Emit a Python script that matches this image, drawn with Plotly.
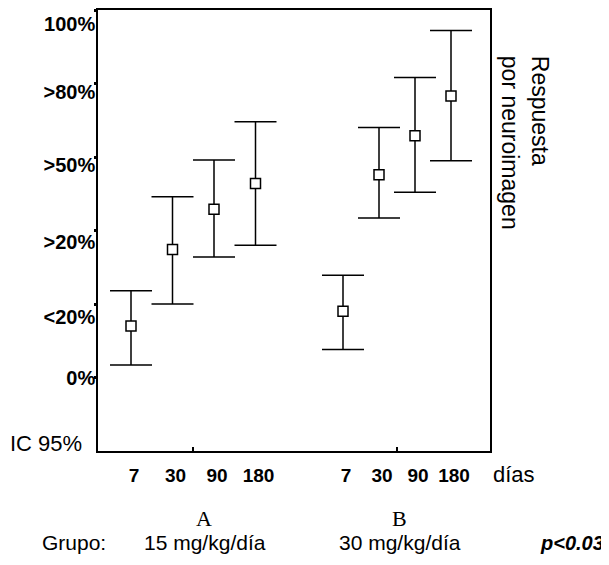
import plotly.graph_objects as go

# ---------------- data ----------------
days = ["7", "30", "90", "180"]
groups = ["A", "B"]
group_desc = ["15 mg/kg/día", "30 mg/kg/día"]

# response level on the ordinal scale (0 = IC 95% baseline ... 6 = top)
A_mid = [1.70, 2.74, 3.29, 3.64]
A_hi = [2.18, 3.46, 3.96, 4.48]
A_lo = [1.17, 2.00, 2.64, 2.80]
B_mid = [1.90, 3.76, 4.29, 4.83]
B_hi = [2.39, 4.40, 5.08, 5.72]
B_lo = [1.38, 3.17, 3.52, 3.95]

y_levels = [1, 2, 3, 4, 5, 6]
y_labels = ["0%", "<20%", ">20%", ">50%", ">80%", "100%"]

# ---------------- layout helpers ----------------
W, H = 609, 565            # window size
OFF = 8                    # page body margin
L, R, T, B = 98, 490, 8, 451          # plot box in window pixels
GROUP_START = {"A": 33, "B": 245}
GROUP_STEP = {"A": 41.5, "B": 36}
LABEL_SHIFT = [0.0, 0.17, 0.16, 0.11, 0.11, 0.19]  # labels sit a little below their tick


def px_x(p):
    return (p - L) / (R - L)


def px_y(p):
    return (B - p) / (B - T)


fig = go.Figure()
series = {"A": (A_mid, A_hi, A_lo), "B": (B_mid, B_hi, B_lo)}
all_x, all_text, centers = [], [], []
for g in groups:
    mid, hi, lo = series[g]
    xs = [GROUP_START[g] + i * GROUP_STEP[g] for i in range(len(days))]
    all_x += xs
    all_text += days
    centers.append((xs[0] + xs[-1]) / 2)
    fig.add_trace(go.Scatter(
        x=xs, y=mid, mode="markers",
        marker=dict(symbol="square", size=10, color="white",
                    line=dict(color="black", width=1.5)),
        error_y=dict(type="data", symmetric=False,
                     array=[h - m for h, m in zip(hi, mid)],
                     arrayminus=[m - l for m, l in zip(mid, lo)],
                     color="black", thickness=1.5, width=21),
        showlegend=False, hoverinfo="skip",
    ))

sans = "Liberation Sans, Arial"
fig.update_xaxes(
    range=[0, R - L], showline=True, linecolor="black", linewidth=1.5,
    mirror=True, showgrid=False, zeroline=False,
    tickmode="array", tickvals=all_x, ticktext=all_text, ticks="",
    tickfont=dict(family=sans, size=19, color="black", weight="bold"),
    ticklabelstandoff=6, ticklabelshift=3,
    minor=dict(tickvals=centers, ticks="inside", ticklen=4, tickwidth=2,
               tickcolor="black"),
)
fig.update_yaxes(
    range=[0, 6], showline=True, linecolor="black", linewidth=1.5,
    mirror=True, showgrid=False, zeroline=False,
    tickmode="array",
    tickvals=[v - s for v, s in zip(y_levels, LABEL_SHIFT)],
    ticktext=y_labels, ticks="",
    tickfont=dict(family=sans, size=20, color="black", weight="bold"),
    ticklabelstandoff=-3,
    minor=dict(tickvals=y_levels, ticks="outside", ticklen=2, tickwidth=3,
               tickcolor="black"),
)

ann = []
ann.append(dict(text="IC 95%", xref="paper", yref="paper", x=px_x(OFF), y=px_y(443),
                xanchor="left", yanchor="middle", showarrow=False,
                font=dict(family=sans, size=22, color="black")))
ann.append(dict(text="días", xref="paper", yref="paper", x=px_x(514), y=px_y(475),
                xanchor="center", yanchor="middle", showarrow=False,
                font=dict(family=sans, size=22, color="black")))
ann.append(dict(text="Respuesta<br>por neuroimagen", textangle=90, align="left",
                xref="paper", yref="paper", x=px_x(525), y=px_y(52),
                xanchor="center", yanchor="top", showarrow=False,
                font=dict(family=sans, size=23, color="black")))
for g, desc, cx, dx in zip(groups, group_desc, [204, 399], [205, 400]):
    ann.append(dict(text=g, xref="paper", yref="paper", x=px_x(cx), y=px_y(519),
                    xanchor="center", yanchor="middle", showarrow=False,
                    font=dict(family="Liberation Serif, Times New Roman", size=22,
                              color="black")))
    ann.append(dict(text=desc, xref="paper", yref="paper", x=px_x(dx), y=px_y(543),
                    xanchor="center", yanchor="middle", showarrow=False,
                    font=dict(family=sans, size=21, color="black")))
ann.append(dict(text="Grupo:", xref="paper", yref="paper", x=px_x(40), y=px_y(543),
                xanchor="left", yanchor="middle", showarrow=False,
                font=dict(family=sans, size=21, color="black")))
ann.append(dict(text="<b><i>p<0.03</i></b>", xref="paper", yref="paper",
                x=px_x(606), y=px_y(543), xanchor="right", yanchor="middle",
                showarrow=False, font=dict(family=sans, size=20, color="black")))

fig.update_layout(
    width=W - OFF, height=H - OFF, autosize=False,
    margin=dict(l=L - OFF, r=W - R, t=T - OFF, b=H - B, pad=0),
    paper_bgcolor="white", plot_bgcolor="white",
    annotations=ann,
)

fig.write_html("out.html")
